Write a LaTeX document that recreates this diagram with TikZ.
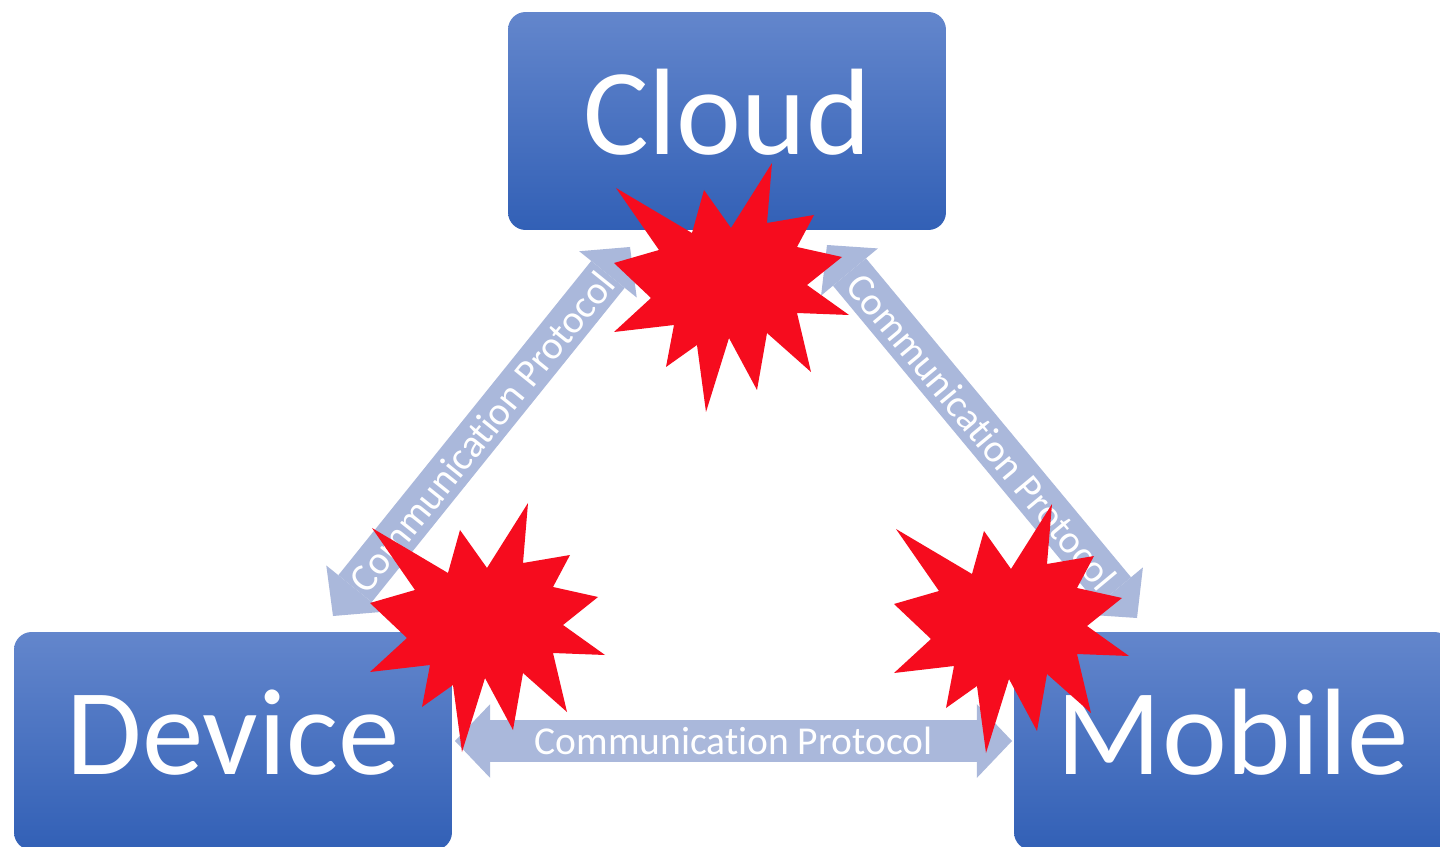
\documentclass[tikz,border=0pt]{standalone}
\usepackage{fontspec}
\setmainfont{Carlito}[Ligatures=NoCommon]
\usetikzlibrary{arrows.meta}
\definecolor{boxtop}{RGB}{99,134,204}
\definecolor{boxbot}{RGB}{50,96,182}
\definecolor{linkblue}{RGB}{170,184,219}
\definecolor{burstred}{RGB}{246,12,30}

\begin{document}
\begin{tikzpicture}[
x=0.02cm,y=-0.02cm,
box/.style={rounded corners=10pt,minimum width=8.76cm,minimum height=4.36cm,inner sep=0pt,text height=38pt,text depth=0pt,top color=boxtop,bottom color=boxbot,text=white,font=\fontsize{70}{80}\selectfont},
link/.style={draw=linkblue,line width=24.4pt,{Triangle[length=20pt,width=42pt,line width=0pt]}-{Triangle[length=20pt,width=42pt,line width=0pt]}},
lbl/.style={sloped,inner sep=0pt,text=white,font=\fontsize{22.5}{26}\selectfont},
burst/.pic={\fill[burstred] (40,-125) -- (35,-65) -- (82,-73) -- (65,-41) -- (110,-31) -- (75,-3) -- (117,27) -- (65,25) -- (79,84) -- (35,45) -- (25,102) -- (-3,50) -- (-26,124) -- (-35,57) -- (-66,79) -- (-58,37) -- (-118,44) -- (-81,10) -- (-118,-25) -- (-73,-38) -- (-116,-100) -- (-40,-55) -- (-28,-98) -- (-1,-60) -- cycle;}
]
\useasboundingbox (0,0) rectangle (1440,847);
\fill[white] (0,0) rectangle (1440,847);
\node[box] (cloud) at (727,121) {Cloud};
\node[box] (device) at (233,741) {Device};
\node[box] (mobile) at (1233,741) {Mobile};
\coordinate (dc) at (333,616);
\coordinate (cd) at (630,247);
\coordinate (cm) at (827,245);
\coordinate (mc) at (1137,618);
\coordinate (dm) at (455,741);
\coordinate (md) at (1012,741);
\draw[link] (dc) -- node[lbl] {Communication Protocol} (cd);
\draw[link] (cm) -- node[lbl] {Communication Protocol} (mc);
\draw[link] (dm) -- node[lbl] {Communication Protocol} (md);
\pic at (732,288) {burst};
\pic at (488,628) {burst};
\pic at (1012,629) {burst};
\end{tikzpicture}
\end{document}
